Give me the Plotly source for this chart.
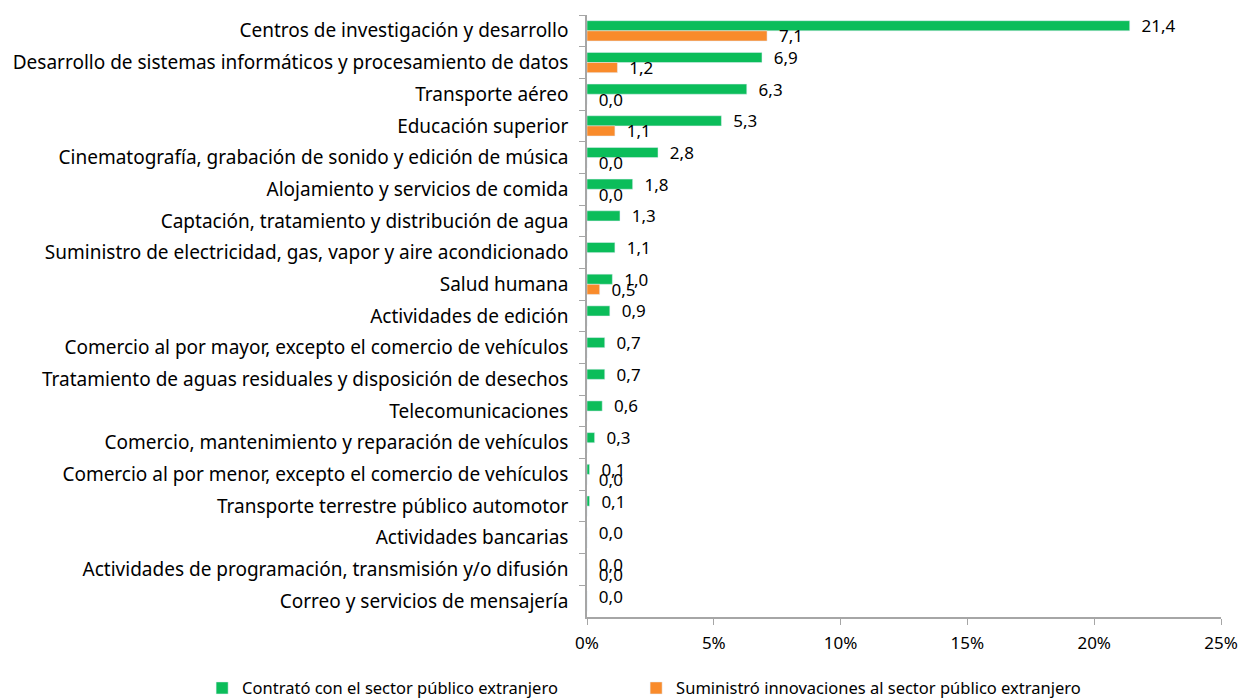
import plotly.graph_objects as go

categories = [
    "Centros de investigación y desarrollo",
    "Desarrollo de sistemas informáticos y procesamiento de datos",
    "Transporte aéreo",
    "Educación superior",
    "Cinematografía, grabación de sonido y edición de música",
    "Alojamiento y servicios de comida",
    "Captación, tratamiento y distribución de agua",
    "Suministro de electricidad, gas, vapor y aire acondicionado",
    "Salud humana",
    "Actividades de edición",
    "Comercio al por mayor, excepto el comercio de vehículos",
    "Tratamiento de aguas residuales y disposición de desechos",
    "Telecomunicaciones",
    "Comercio, mantenimiento y reparación de vehículos",
    "Comercio al por menor, excepto el comercio de vehículos",
    "Transporte terrestre público automotor",
    "Actividades bancarias",
    "Actividades de programación, transmisión y/o difusión",
    "Correo y servicios de mensajería",
]
contrato = [21.4, 6.9, 6.3, 5.3, 2.8, 1.8, 1.3, 1.1, 1.0, 0.9, 0.7, 0.7, 0.6, 0.3, 0.1, 0.1, 0.0, 0.0, 0.0]
suministro = [7.1, 1.2, 0.0, 1.1, 0.0, 0.0, None, None, 0.5, None, None, None, None, None, 0.0, None, None, 0.0, None]

green = "#0BBD5A"
orange = "#F98B2B"
font_family = "Noto Sans"
NBSP = "\u00a0"

def labels(vals):
    return ["" if v is None else NBSP * 2 + f"{v:.1f}".replace(".", ",") for v in vals]

fig = go.Figure()
fig.add_trace(go.Bar(
    y=categories, x=contrato, orientation="h", name="Contrató con el sector público extranjero",
    marker_color=green, text=labels(contrato), textposition="outside", constraintext="none",
    textfont=dict(size=17, color="#000000"), cliponaxis=False, legend="legend",
))
fig.add_trace(go.Bar(
    y=categories, x=[0 if v is None else v for v in suministro], orientation="h",
    name="Suministró innovaciones al sector público extranjero",
    marker_color=orange, text=labels(suministro), textposition="outside", constraintext="none",
    textfont=dict(size=17, color="#000000"), cliponaxis=False, legend="legend2",
))

legend_common = dict(orientation="h", xref="container", yref="container",
                     xanchor="left", y=0.014, yanchor="middle",
                     font=dict(size=16.5), itemwidth=30, bgcolor="rgba(0,0,0,0)")

fig.update_layout(
    width=1240, height=698,
    paper_bgcolor="white", plot_bgcolor="white",
    barmode="group", bargap=0.36, bargroupgap=0.0,
    separators=",.",
    margin=dict(l=587, r=19, t=15, b=81),
    font=dict(family=font_family, size=17, color="#000000"),
    legend=dict(x=0.163, **legend_common),
    legend2=dict(x=0.513, **legend_common),
    showlegend=True,
)
fig.update_xaxes(
    range=[0, 25], dtick=5, ticksuffix="%", showgrid=False, zeroline=False,
    showline=True, linecolor="#A6A6A6", linewidth=1.5,
    ticks="outside", ticklen=6, tickcolor="#A6A6A6",
    tickfont=dict(size=17), automargin=False, ticklabelstandoff=4,
)
fig.update_yaxes(
    autorange="reversed", showgrid=False, showline=True, linecolor="#A6A6A6", linewidth=1.5,
    ticks="outside", ticklen=6, tickcolor="#A6A6A6", tickson="boundaries",
    tickfont=dict(size=19), ticklabelstandoff=13, automargin=False,
)

fig.write_html("out.html", config={"displayModeBar": False},
               post_script="document.body.style.margin='0';")
